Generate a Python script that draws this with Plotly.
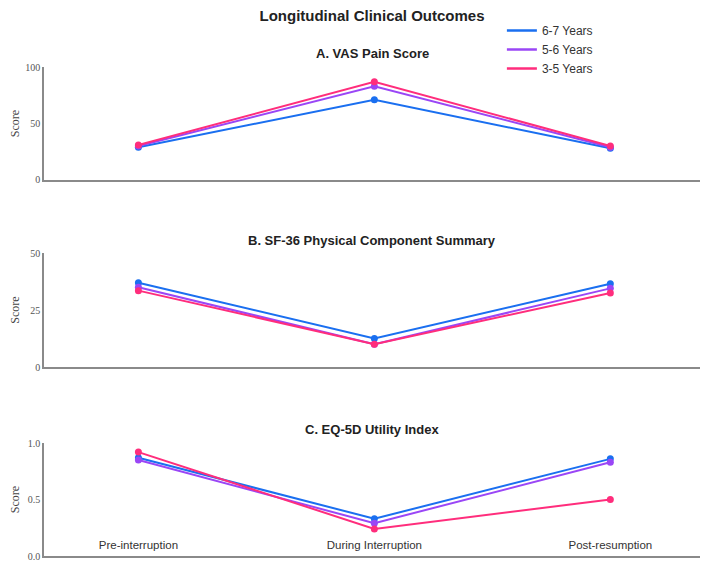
import plotly.graph_objects as go
from plotly.subplots import make_subplots

timepoints = ["Pre-interruption", "During Interruption", "Post-resumption"]
groups = ["6-7 Years", "5-6 Years", "3-5 Years"]
colors = ["#1a6ff0", "#9a46f6", "#ff2d7c"]

vas = {
    "6-7 Years": [29, 71, 28],
    "5-6 Years": [30, 83, 29],
    "3-5 Years": [31, 87, 30],
}
sf36 = {
    "6-7 Years": [37, 12.5, 36.5],
    "5-6 Years": [35, 10, 34.5],
    "3-5 Years": [33.5, 10, 32.5],
}
eq5d = {
    "6-7 Years": [0.87, 0.33, 0.86],
    "5-6 Years": [0.85, 0.29, 0.83],
    "3-5 Years": [0.92, 0.24, 0.50],
}

panel_titles = ["A. VAS Pain Score", "B. SF-36 Physical Component Summary", "C. EQ-5D Utility Index"]
panel_data = [vas, sf36, eq5d]
y_ranges = [[0, 100], [0, 50], [0, 1.0]]
y_ticks = [[0, 50, 100], [0, 25, 50], [0, 0.5, 1.0]]
y_ticktext = [["0", "50", "100"], ["0", "25", "50"], ["0.0", "0.5", "1.0"]]

fig = make_subplots(rows=3, cols=1, shared_xaxes=False)

for r, data in enumerate(panel_data, start=1):
    for g, c in zip(groups, colors):
        fig.add_trace(
            go.Scatter(
                x=timepoints, y=data[g], mode="lines+markers", name=g,
                line=dict(color=c, width=2), marker=dict(color=c, size=7),
                showlegend=False,
            ),
            row=r, col=1,
        )

# legend entries drawn as plain lines (as in the reference legend)
for g, c in zip(groups, colors):
    fig.add_trace(
        go.Scatter(x=[None], y=[None], mode="lines", name=g,
                   line=dict(color=c, width=2.5), showlegend=True),
        row=1, col=1,
    )

# page has an 8px body margin; figure is sized to fit the 711x565 window
W, H = 703, 557
domains = [[0.769, 1.0], [0.3865, 0.6196], [0.0, 0.231]]
standoffs = [9, 11, 9]
for i in range(3):
    yname = "yaxis" if i == 0 else f"yaxis{i+1}"
    xname = "xaxis" if i == 0 else f"xaxis{i+1}"
    fig.layout[yname].update(
        domain=domains[i], range=y_ranges[i], tickvals=y_ticks[i], ticktext=y_ticktext[i],
        showgrid=False, zeroline=False, showline=True, linecolor="#8a8a8a", linewidth=1.5,
        ticks="", automargin=False,
        tickfont=dict(family="Liberation Serif", size=10, color="#555"),
        title=dict(text="Score", font=dict(family="Liberation Serif", size=12, color="#444"),
                   standoff=standoffs[i]),
    )
    fig.layout[xname].update(
        range=[-0.4, 2.38], showgrid=False, zeroline=False, showline=True,
        linecolor="#8a8a8a", linewidth=1.5, ticks="", automargin=False,
        showticklabels=(i == 2), ticklabelposition="outside", ticklabelstandoff=-23,
        tickfont=dict(family="Liberation Sans", size=11.5, color="#333"),
    )

title_y = [53, 241, 429]
for t, yp in zip(panel_titles, title_y):
    fig.add_annotation(
        text=f"<b>{t}</b>", x=0.5, xref="paper", y=1 - (yp - 67) / 489, yref="paper",
        yanchor="middle", showarrow=False,
        font=dict(family="Liberation Sans", size=13, color="#222"),
    )

fig.update_layout(
    width=W, height=H,
    margin=dict(l=36, r=11, t=59, b=9, autoexpand=False),
    plot_bgcolor="white", paper_bgcolor="white",
    title=dict(text="<b>Longitudinal Clinical Outcomes</b>", x=0.5, xref="paper", xanchor="center",
               y=1 - 8 / H, yanchor="middle",
               font=dict(family="Liberation Sans", size=15, color="#222")),
    legend=dict(x=0.698, xanchor="left", yref="container", y=1 - 8 / H, yanchor="top",
                font=dict(family="Liberation Sans", size=12, color="#333"),
                bgcolor="rgba(0,0,0,0)", itemwidth=30, tracegroupgap=0),
    showlegend=True,
)

fig.write_html("out.html")
